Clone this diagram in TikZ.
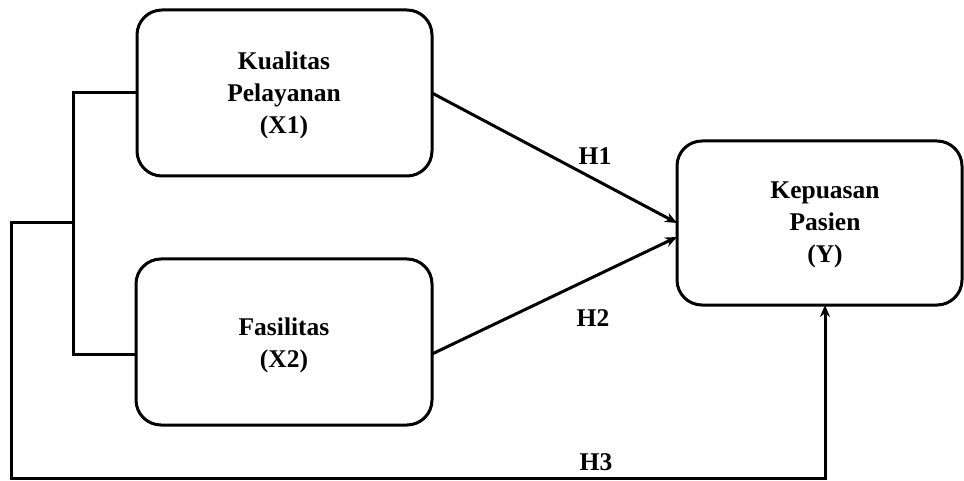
\documentclass[tikz,border=0pt]{standalone}
\usepackage{fontspec}
\setmainfont{Liberation Serif}
\usetikzlibrary{arrows.meta}
\begin{document}
\begin{tikzpicture}[x=1pt,y=-1pt,
  boxnode/.style={draw, line width=3pt, rounded corners=25pt, inner sep=0pt, outer sep=0pt},
  conn/.style={draw, line width=3pt},
  txt/.style={font=\fontsize{25.5}{32}\selectfont\bfseries, align=center, inner sep=0pt},
  arr/.style={conn, -{Stealth[length=12pt,width=10pt]}}]
\useasboundingbox (0,0) rectangle (964,481);
% boxes
\node[boxnode, minimum width=295pt, minimum height=166pt] (x1) at (284.5,93) {};
\node[boxnode, minimum width=296pt, minimum height=166pt] (x2) at (284,342) {};
\node[boxnode, minimum width=285pt, minimum height=164pt] (yb) at (819.5,223) {};
% texts
\node[txt] (t1) at (284,95) {Kualitas\\Pelayanan\\(X1)};
\node[txt] (t2) at (284,345) {Fasilitas\\(X2)};
\node[txt] (t3) at (825,225) {Kepuasan\\Pasien\\(Y)};
\node[txt] (h1) at (595,156) {H1};
\node[txt] (h2) at (593,318) {H2};
\node[txt] (h3) at (596,462) {H3};
% junction coordinates
\coordinate (jt) at (73,93);
\coordinate (jb) at (73,354);
\coordinate (jm) at (73,223);
\coordinate (bl) at (11,478);
\coordinate (ye2) at (677,237);
\coordinate (ys) at (825,305);
% connectors
\path[conn] (x1.west) -- (jt) -- (jb) -- (jb -| x2.west);
\path[arr] (jm) -| (bl) -| (ys);
\path[arr] (x1.east) -- (yb.west);
\path[arr] (jb -| x2.east) -- (ye2);
\end{tikzpicture}
\end{document}
